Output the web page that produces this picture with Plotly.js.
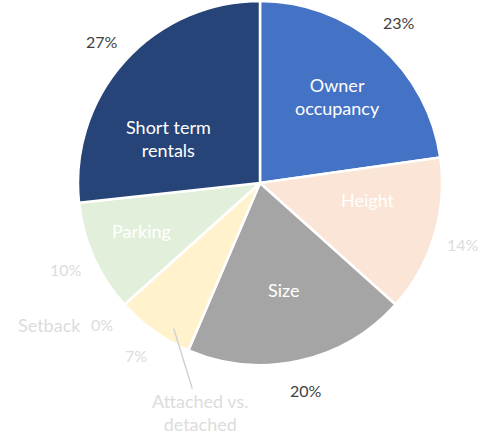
<!DOCTYPE html>
<html><head><meta charset="utf-8">
<script src="https://cdn.plot.ly/plotly-3.0.1.min.js"></script>
<style>html,body{margin:0;padding:0;background:#fff}#c{width:484px;height:440px}</style>
</head><body><div id="c"></div>
<script>
const categories = ["Owner occupancy", "Height", "Size", "Attached vs. detached", "Setback", "Parking", "Short term rentals"];
const insideLabels = ["Owner<br>occupancy", "Height", "Size", "", "", "Parking", "Short term<br>rentals"];
const values = [23, 14, 20, 7, 0, 10, 27];
const pctLabels = ["23%", "14%", "20%", "7%", "0%", "10%", "27%"];
const colors = ["#4472C4", "#FBE5D6", "#A5A5A5", "#FFF2CC", "#E7E6E6", "#E2EFDA", "#264478"];
const pctColors = ["#404040", "#DCDCDC", "#404040", "#DCDCDC", "#DCDCDC", "#DCDCDC", "#404040"];

// label placement styling (radius factor, angle shift in degrees)
const inRadius = [0.64, 0.60, 0.60, 0, 0, 0.70, 0.56];
const inShift = [1, -8, 0, 0, 0, 2, -16];
const outRadius = 1.165;

const W = 484, H = 440;
const cx = 260, cy = 183, R = 182;
const FONT = "Lato, 'Open Sans', sans-serif";

const total = values.reduce((a, b) => a + b, 0);
function pos(frac, rf, shiftDeg) {
  const a = frac * 2 * Math.PI + (shiftDeg || 0) * Math.PI / 180;
  const px = cx + Math.sin(a) * R * rf;
  const py = cy - Math.cos(a) * R * rf;
  return {x: px / W, y: 1 - py / H};
}
const annotations = [];
let cum = 0;
values.forEach((v, i) => {
  const mid = (cum + v / 2) / total;
  cum += v;
  if (insideLabels[i]) {
    const p = pos(mid, inRadius[i], inShift[i]);
    annotations.push({x: p.x, y: p.y, xref: "paper", yref: "paper", text: insideLabels[i], showarrow: false,
      font: {family: FONT, size: 18, color: "#FFFFFF"}, xanchor: "center", yanchor: "middle"});
  }
  const q = pos(mid, outRadius, 0);
  annotations.push({x: q.x, y: q.y, xref: "paper", yref: "paper", text: pctLabels[i], showarrow: false,
    font: {family: FONT, size: 16, color: pctColors[i]}, xanchor: "center", yanchor: "middle"});
  if (categories[i] === "Setback") {
    annotations.push({x: q.x - 0.04, y: q.y, xref: "paper", yref: "paper", text: categories[i], showarrow: false,
      font: {family: FONT, size: 18, color: "#DCDCDC"}, xanchor: "right", yanchor: "middle"});
  }
  if (categories[i] === "Attached vs. detached") {
    const t = pos(mid, 0.93, -5);
    annotations.push({x: t.x, y: t.y, xref: "paper", yref: "paper", text: "Attached vs.<br>detached",
      showarrow: true, arrowhead: 0, arrowwidth: 1.5, arrowcolor: "#D0D0D0", ax: 26, ay: 84,
      font: {family: FONT, size: 18, color: "#DCDCDC"}, xanchor: "center", yanchor: "middle"});
  }
});

const data = [{
  type: "pie",
  labels: categories,
  values: values,
  sort: false,
  direction: "clockwise",
  rotation: 0,
  textinfo: "none",
  hoverinfo: "label+percent",
  marker: {colors: colors, line: {color: "#FFFFFF", width: 2.5}},
  domain: {x: [(cx - R) / W, (cx + R) / W], y: [1 - (cy + R) / H, 1 - (cy - R) / H]}
}];
const layout = {
  width: W, height: H,
  margin: {l: 0, r: 0, t: 0, b: 0},
  paper_bgcolor: "#FFFFFF",
  showlegend: false,
  annotations: annotations
};
Plotly.newPlot("c", data, layout, {displayModeBar: false, staticPlot: true});
</script>
</body></html>
